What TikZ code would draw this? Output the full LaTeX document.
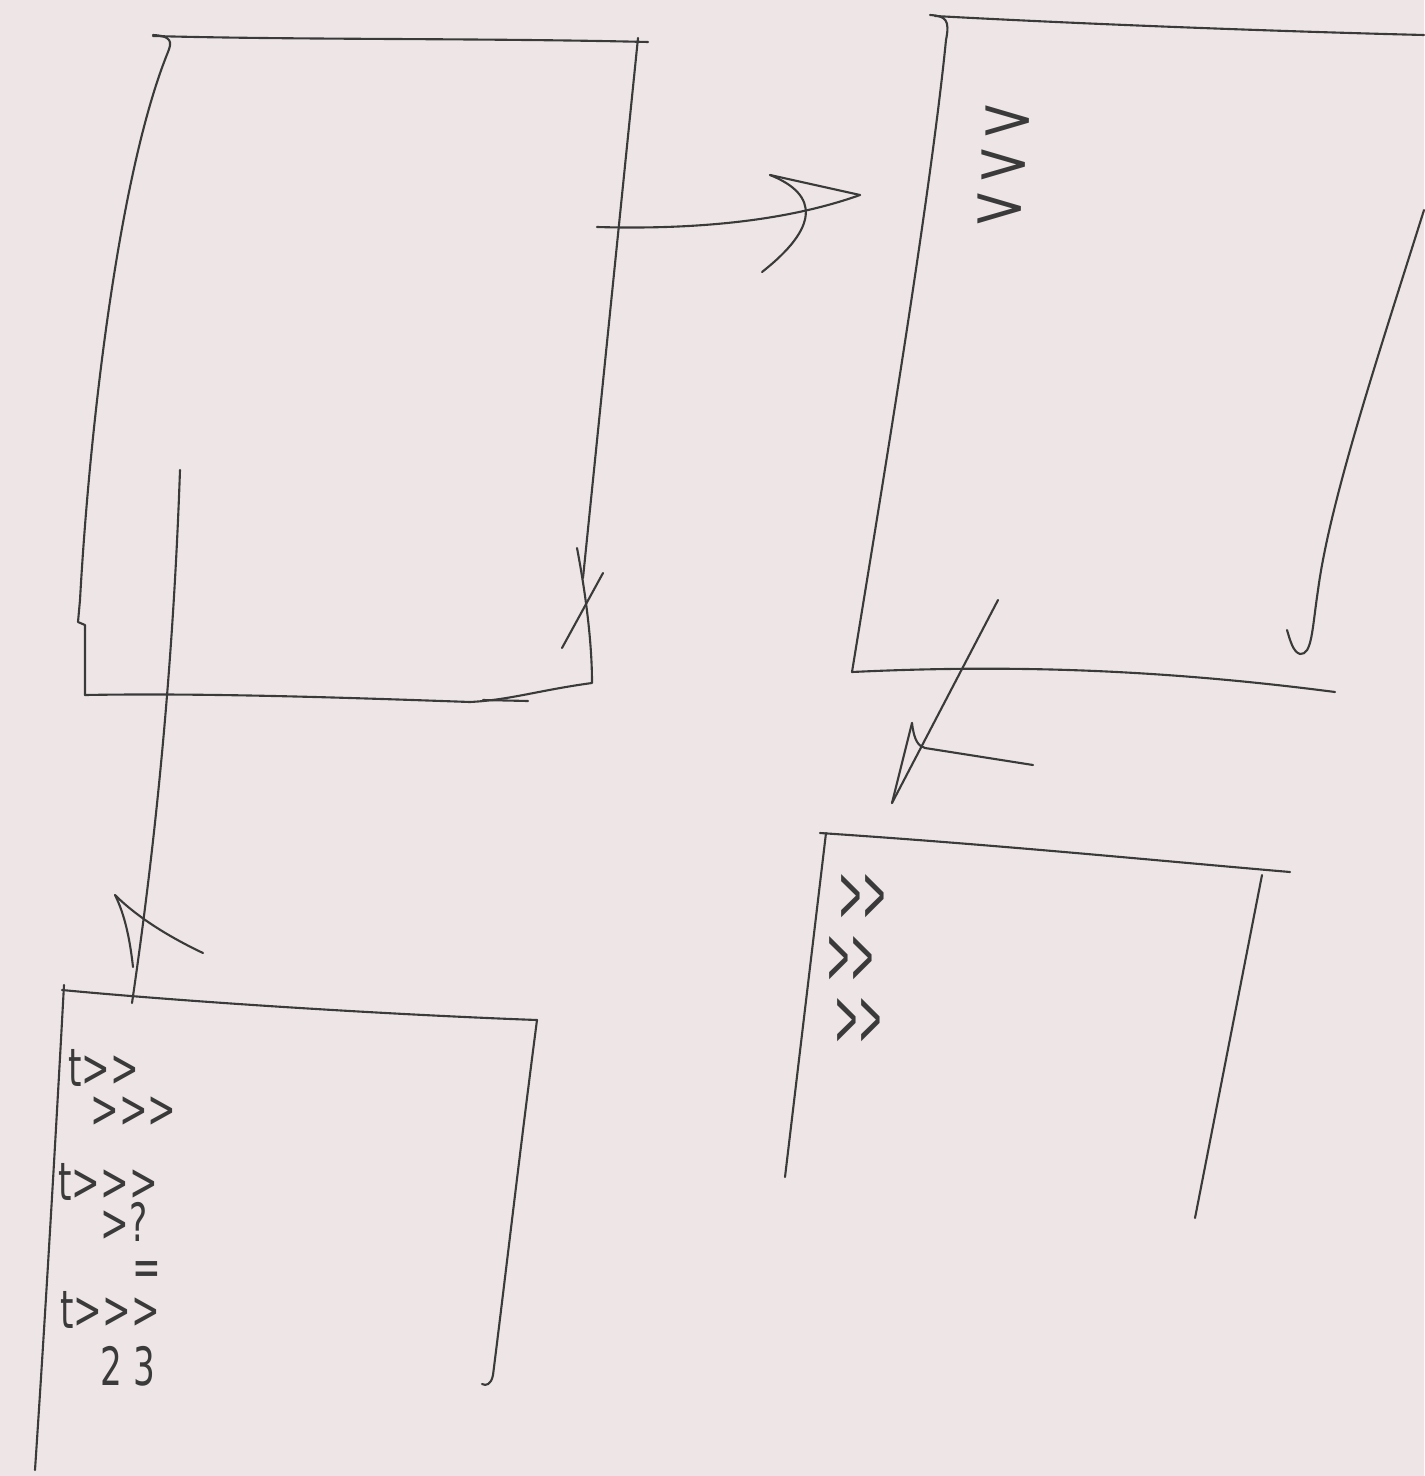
\documentclass[tikz,border=0pt]{standalone}
\usepackage{fontspec}
\setsansfont{DejaVu Sans}
\definecolor{paperbg}{HTML}{EEE6E6}
\definecolor{inkgray}{HTML}{3A3A3A}
\newcommand{\chev}{>\kern0pt}

\begin{document}
\begin{tikzpicture}[x=0.01cm,y=-0.01cm]
\tikzset{
  sketchline/.style={draw=inkgray,line width=0.6pt,line cap=round,line join=round},
  scribble/.style={anchor=west,inner sep=0pt,text=inkgray,font=\sffamily\fontsize{15}{16}\selectfont,xscale=0.65},
  bigscribble/.style={scribble,font=\sffamily\fontsize{23}{25}\selectfont,xscale=0.56},
  sidescribble/.style={scribble,font=\sffamily\fontsize{16}{18}\selectfont,xscale=1.9}
}
\fill[paperbg] (0,0) rectangle (1424,1476);
\useasboundingbox (0,0) rectangle (1424,1476);

% page one, top left
\coordinate (p1_out) at (597,227);
\coordinate (p1_down) at (180,470);
\draw[sketchline] (153,35) .. controls (172,36) and (172,42) .. (168,52)
  .. controls (120,170) and (90,420) .. (80,600) -- (78,622) -- (85,625) -- (85,695);
\draw[sketchline] (153,36) .. controls (300,40) and (480,38) .. (648,42);
\draw[sketchline] (638,38) -- (583,578);
\draw[sketchline] (577,548) .. controls (585,590) and (592,640) .. (592,683)
  .. controls (540,690) and (510,700) .. (470,702) .. controls (330,697) and (200,693) .. (85,695);
\draw[sketchline] (483,700) -- (528,701);
\draw[sketchline] (603,573) -- (562,648);

% arrow to page two
\coordinate (p2_in) at (860,195);
\draw[sketchline] (p1_out) .. controls (700,230) and (790,220) .. (p2_in);
\draw[sketchline] (770,175) -- (p2_in);
\draw[sketchline] (770,175) .. controls (820,195) and (818,228) .. (762,272);

% page two, top right
\coordinate (p2_out) at (998,600);
\draw[sketchline] (930,15) .. controls (946,16) and (950,20) .. (946,40)
  .. controls (930,200) and (880,500) .. (852,672);
\draw[sketchline] (935,16) .. controls (1100,25) and (1300,32) .. (1424,35);
\draw[sketchline] (852,672) .. controls (1000,665) and (1150,668) .. (1335,692);
\draw[sketchline] (1424,210) .. controls (1380,350) and (1330,500) .. (1318,590)
  .. controls (1312,630) and (1312,655) .. (1300,654) .. controls (1293,652) and (1290,640) .. (1287,630);
\node[sidescribble] (sub_a) at (978,122) {>};
\node[sidescribble] (sub_b) at (974,166) {>};
\node[sidescribble] (sub_c) at (970,210) {>};

% arrow to page four
\coordinate (p4_in) at (892,803);
\draw[sketchline] (p2_out) -- (p4_in);
\draw[sketchline] (912,723) -- (p4_in);
\draw[sketchline] (912,723) .. controls (914,740) and (918,746) .. (925,748) -- (1033,765);

% arrow to page three
\coordinate (p3_in) at (132,1003);
\draw[sketchline] (p1_down) .. controls (172,700) and (150,880) .. (p3_in);
\draw[sketchline] (115,895) .. controls (135,915) and (165,935) .. (203,953);
\draw[sketchline] (115,895) .. controls (125,915) and (130,940) .. (133,967);

% page three, bottom left
\draw[sketchline] (62,990) .. controls (200,1003) and (400,1015) .. (537,1020);
\draw[sketchline] (64,985) .. controls (55,1150) and (45,1320) .. (35,1470);
\draw[sketchline] (537,1020) .. controls (520,1150) and (505,1280) .. (493,1375)
  .. controls (491,1385) and (486,1386) .. (482,1384);
\node[scribble] (row_a) at (68,1068) {t\chev\chev};
\node[scribble] (row_b) at (90,1112) {\chev\chev>};
\node[scribble] (row_c) at (58,1182) {t\chev\chev\chev};
\node[scribble] (row_d) at (100,1222) {\chev?};
\node[scribble,xscale=1] (row_e) at (132,1274) {=};
\node[scribble] (row_f) at (60,1310) {t\chev\chev\chev};
\node[scribble] (row_g) at (100,1366) {2 3};

% page four, bottom right
\draw[sketchline] (820,833) .. controls (1000,845) and (1150,860) .. (1290,872);
\draw[sketchline] (826,833) -- (785,1177);
\draw[sketchline] (1262,875) -- (1195,1218);
\node[bigscribble] (sub_d) at (838,898) {\chev>};
\node[bigscribble] (sub_e) at (826,960) {\chev>};
\node[bigscribble] (sub_f) at (834,1022) {\chev>};
\end{tikzpicture}
\end{document}
